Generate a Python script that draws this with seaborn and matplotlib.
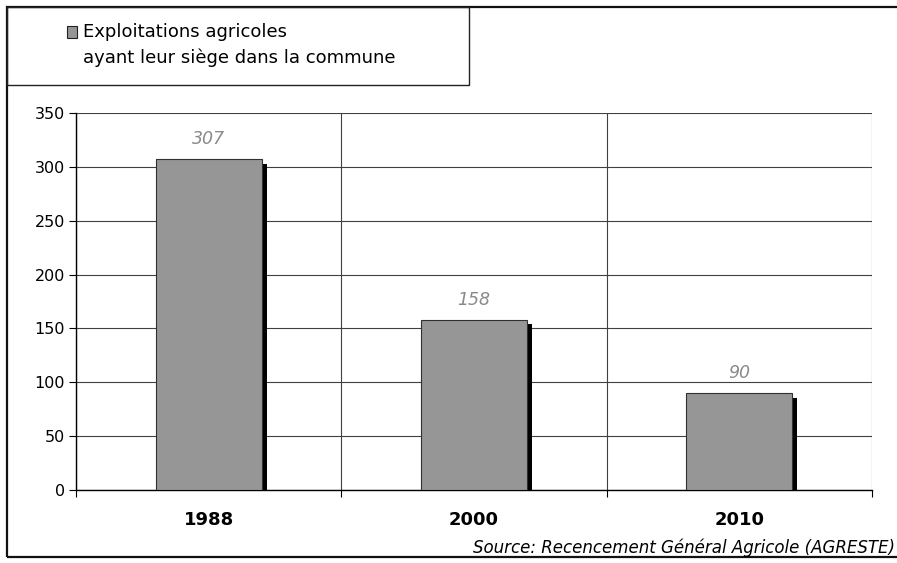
import matplotlib
matplotlib.use("Agg")
import matplotlib.pyplot as plt
import matplotlib.patheffects as pe
from matplotlib.patches import Rectangle
from matplotlib.legend_handler import HandlerPatch
import pandas as pd
import seaborn as sns

# --- données ---
annees = ["1988", "2000", "2010"]
exploitations = [307, 158, 90]
legende = "Exploitations agricoles\nayant leur siège dans la commune"
source = "Source: Recencement Général Agricole (AGRESTE)"

df = pd.DataFrame({"annee": annees, "exploitations": exploitations})

sns.set_style("white")
plt.rcParams["font.family"] = ["DejaVu Sans"]
plt.rcParams["text.color"] = "black"
plt.rcParams["xtick.color"] = "black"
plt.rcParams["ytick.color"] = "black"

fig = plt.figure(figsize=(8.97, 5.63), dpi=100)
ax = fig.add_axes([76 / 897, 1 - 490 / 563, (872 - 76) / 897, (490 - 113) / 563])

sns.barplot(data=df, x="annee", y="exploitations", color="#969696", width=0.4,
            saturation=1, edgecolor="#303030", linewidth=0.8, ax=ax, zorder=3)

# ombre portée des barres
for p in ax.patches:
    p.set_path_effects([pe.SimplePatchShadow(offset=(3.6, -3.3), shadow_rgbFace="black", alpha=1.0),
                        pe.Normal()])

# valeurs au-dessus des barres
for cont in ax.containers:
    ax.bar_label(cont, fmt="%d", padding=8, fontsize=12.5, fontstyle="italic", color="#8a8a8a")

ax.set_ylim(0, 350)
ax.set_xlim(-0.5, 2.5)
ax.set_yticks(range(0, 351, 50))
ax.set_xticks([-0.5, 0.5, 1.5, 2.5], minor=True)
ax.tick_params(axis="x", which="major", bottom=True, length=0, pad=15, labelsize=13)
ax.tick_params(axis="x", which="minor", bottom=True, length=5, width=0.8, direction="out")
ax.tick_params(axis="y", left=True, length=5, width=0.8, direction="out", labelsize=11.5, pad=3)
for lab in ax.get_xticklabels():
    lab.set_fontweight("bold")
ax.yaxis.grid(True, color="#404040", linewidth=0.8, zorder=0)
ax.xaxis.grid(True, which="minor", color="#404040", linewidth=0.8, zorder=0)
ax.xaxis.grid(False, which="major")
ax.set_axisbelow(True)
ax.set_xlabel("")
ax.set_ylabel("")
for s in ["top", "right"]:
    ax.spines[s].set_visible(False)
for s in ["left", "bottom"]:
    ax.spines[s].set_color("black")
    ax.spines[s].set_linewidth(1.0)

# cadre extérieur et cadre de la légende
fig.add_artist(Rectangle((6.5 / 897, 1 - 557 / 563), 1.0, (557 - 6.5) / 563, transform=fig.transFigure,
                         fill=False, edgecolor="#111111", linewidth=1.6))
fig.add_artist(Rectangle((6.5 / 897, 1 - 85 / 563), (469 - 6.5) / 897, (85 - 6.5) / 563,
                         transform=fig.transFigure, fill=False, edgecolor="#222222", linewidth=1.0))


def carre_haut(legend, orig_handle, xdescent, ydescent, width, height, fontsize):
    # marqueur aligné sur la première ligne du libellé
    return Rectangle((-xdescent, -ydescent + 10), width, height)


handle = Rectangle((0, 0), 1, 1, facecolor="#969696", edgecolor="#222222", linewidth=0.8)
leg = fig.legend([handle], [legende], loc="upper left", bbox_to_anchor=(67 / 897, 1 - 23 / 563),
                 frameon=False, fontsize=13, handlelength=0.58, handleheight=0.58, handletextpad=0.3,
                 borderpad=0, borderaxespad=0,
                 handler_map={Rectangle: HandlerPatch(patch_func=carre_haut)})
for t in leg.get_texts():
    t.set_linespacing(1.55)

fig.text(895 / 897, 1 - 548 / 563, source, ha="right", va="center", fontsize=12,
         fontstyle="italic")

fig.savefig("out.png", dpi=100)
